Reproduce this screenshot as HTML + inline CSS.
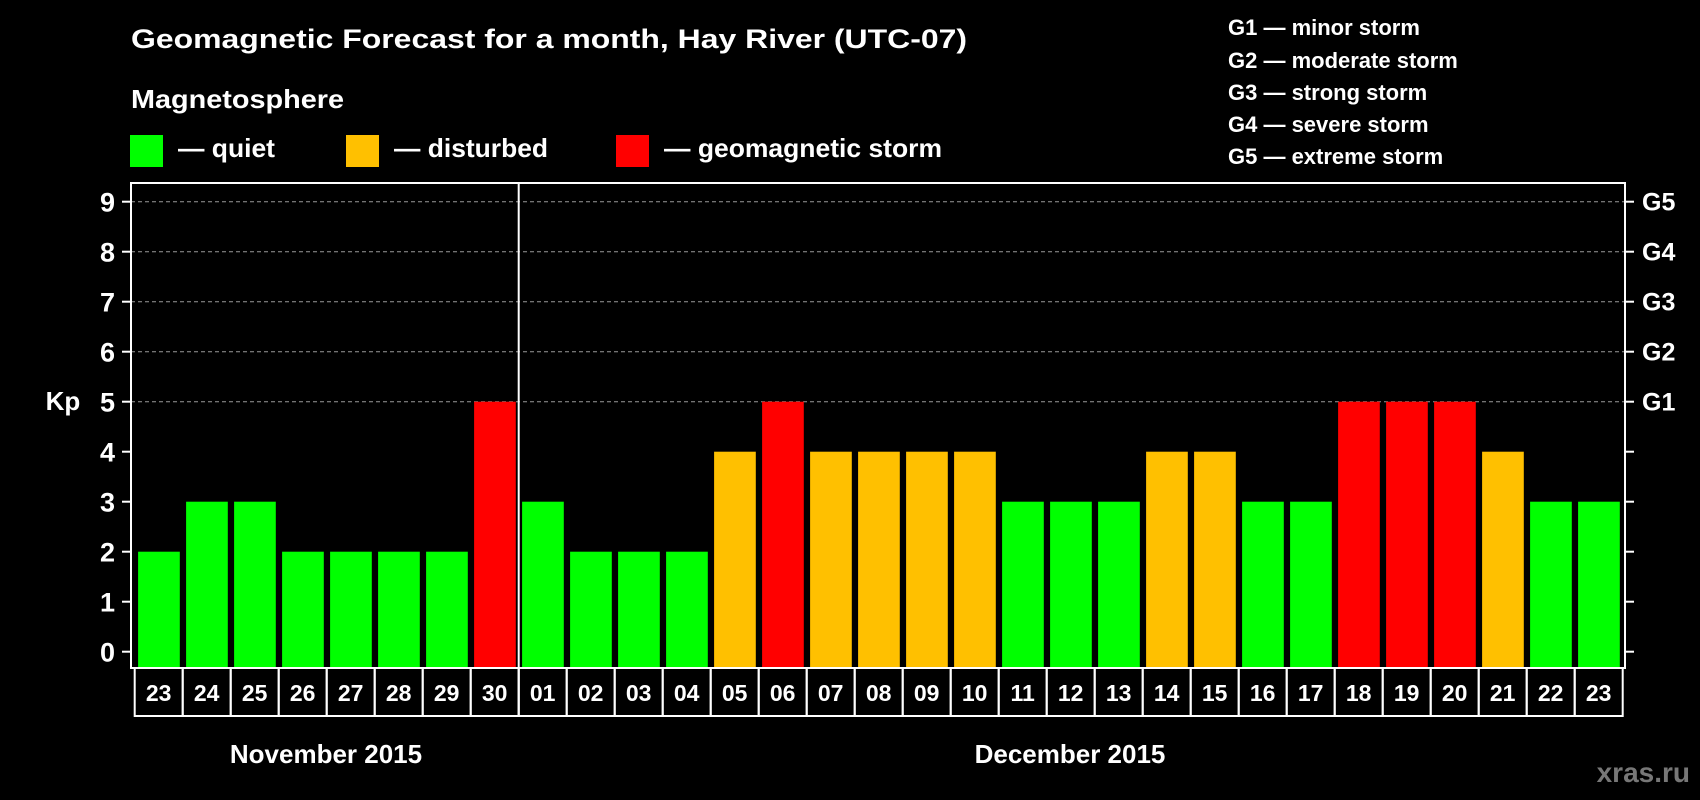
<!DOCTYPE html>
<html><head><meta charset="utf-8"><style>
html,body{margin:0;padding:0;background:#000;}
svg{display:block;font-family:"Liberation Sans",sans-serif;font-weight:bold;}
</style></head><body>
<svg id="chart" width="1700" height="800" viewBox="0 0 1700 800" xmlns="http://www.w3.org/2000/svg">
<rect width="1700" height="800" fill="#000"/>
<text x="131" y="48" fill="#fff" font-size="27" textLength="836" lengthAdjust="spacingAndGlyphs">Geomagnetic Forecast for a month, Hay River (UTC-07)</text>
<text x="131" y="108" fill="#fff" font-size="26" textLength="213" lengthAdjust="spacingAndGlyphs">Magnetosphere</text>
<g>
<rect x="130" y="135" width="33" height="32" fill="#00ff00"/>
<text x="178" y="157" fill="#fff" font-size="26" textLength="97" lengthAdjust="spacingAndGlyphs">— quiet</text></g>
<g>
<rect x="346" y="135" width="33" height="32" fill="#ffc000"/>
<text x="394" y="157" fill="#fff" font-size="26" textLength="154" lengthAdjust="spacingAndGlyphs">— disturbed</text></g>
<g>
<rect x="616" y="135" width="33" height="32" fill="#ff0000"/>
<text x="664" y="157" fill="#fff" font-size="26" textLength="278" lengthAdjust="spacingAndGlyphs">— geomagnetic storm</text></g>
<g fill="#fff" font-size="22">
<text x="1228" y="35">G1 — minor storm</text>
<text x="1228" y="68">G2 — moderate storm</text>
<text x="1228" y="100">G3 — strong storm</text>
<text x="1228" y="132">G4 — severe storm</text>
<text x="1228" y="164">G5 — extreme storm</text>
</g>
<g id="grid"></g>
<g id="bars"></g>
<g id="axes"></g>
<text x="63" y="410" fill="#fff" font-size="26" text-anchor="middle">Kp</text>
<text x="326" y="763" fill="#fff" font-size="26" text-anchor="middle">November 2015</text>
<text x="1070" y="763" fill="#fff" font-size="26" text-anchor="middle">December 2015</text>
<text x="1690" y="782" fill="#777" font-size="28" text-anchor="end">xras.ru</text>
</svg>
<script>
const days = ["23","24","25","26","27","28","29","30","01","02","03","04","05","06","07","08","09","10","11","12","13","14","15","16","17","18","19","20","21","22","23"];
const kpValues = [2,3,3,2,2,2,2,5,3,2,2,2,4,5,4,4,4,4,3,3,3,4,4,3,3,5,5,5,4,3,3];
const yTicks = [0,1,2,3,4,5,6,7,8,9];
const gLabels = ["G1","G2","G3","G4","G5"];
const gLevels = [5,6,7,8,9];
const monthBreak = "01";

const NS = "http://www.w3.org/2000/svg";
const L = 131, R = 1625, T = 183, B = 668;
const cellL = 134.7, cellW = 48.0;
const y0 = 651.7, yUnit = 50.0;
const yScale = v => y0 - v * yUnit;
const xScale = i => cellL + cellW * i;
function mk(tag, attrs, parent) {
  const e = document.createElementNS(NS, tag);
  for (const k in attrs) e.setAttribute(k, attrs[k]);
  parent.appendChild(e);
  return e;
}
const grid = document.getElementById('grid');
const bars = document.getElementById('bars');
const axes = document.getElementById('axes');
gLevels.forEach((lv, i) => {
  const ln = mk('line', {x1: L, x2: R, y1: yScale(lv), y2: yScale(lv), stroke: '#999', 'stroke-width': 1, 'stroke-dasharray': '4,3'}, grid);
  
  
  const t = mk('text', {x: 1642, y: yScale(lv) + 9, fill: '#fff', 'font-size': 25}, axes);
  t.textContent = gLabels[i];
  
  
});
kpValues.forEach((v, i) => {
  const color = v >= 5 ? '#ff0000' : (v >= 4 ? '#ffc000' : '#00ff00');
  const r = mk('rect', {x: xScale(i) + 3.4, y: yScale(v), width: 41.7, height: B - yScale(v), fill: color}, bars);
  
  
  const c = mk('rect', {x: xScale(i), y: B, width: cellW, height: 48, fill: 'none', stroke: '#fff', 'stroke-width': 2}, axes);
  
  
  const t = mk('text', {x: xScale(i) + cellW / 2, y: B + 33, fill: '#fff', 'font-size': 23, 'text-anchor': 'middle'}, axes);
  t.textContent = days[i];
  
  
});
const frame = mk('rect', {x: L, y: T, width: R - L, height: B - T, fill: 'none', stroke: '#fff', 'stroke-width': 2}, axes);


const bi = days.indexOf(monthBreak);
const sep = mk('line', {x1: xScale(bi), x2: xScale(bi), y1: T, y2: B + 48, stroke: '#fff', 'stroke-width': 2}, axes);


yTicks.forEach(v => {
  const tk = mk('line', {x1: L - 9, x2: L, y1: yScale(v), y2: yScale(v), stroke: '#fff', 'stroke-width': 2}, axes);
  
  
  const tk2 = mk('line', {x1: R, x2: R + 9, y1: yScale(v), y2: yScale(v), stroke: '#fff', 'stroke-width': 2}, axes);
  
  
  const t = mk('text', {x: 115, y: yScale(v) + 10, fill: '#fff', 'font-size': 27, 'text-anchor': 'end'}, axes);
  t.textContent = v;
  
  
});
</script>
</body></html>
